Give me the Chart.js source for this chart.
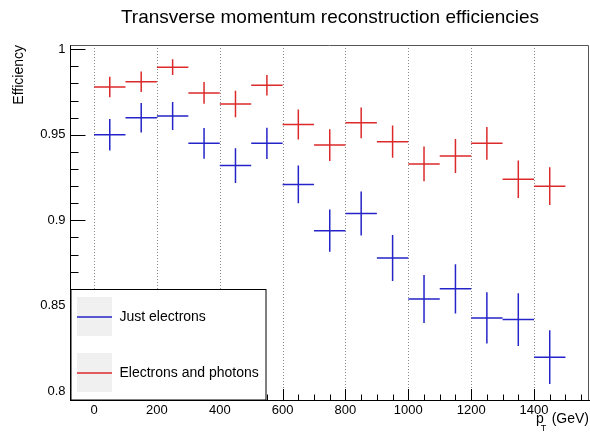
<!DOCTYPE html>
<html>
<head>
<meta charset="utf-8">
<script src="https://cdn.jsdelivr.net/npm/chart.js@4.4.0/dist/chart.umd.min.js"></script>
<style>
  body { margin: 0; background: #fff; }
  canvas { display: block; }
</style>
</head>
<body>
<canvas id="c" width="590" height="435"></canvas>
<script>
// ROOT-style efficiency plot, two histograms with error crosses

const binCenters = [50, 150, 250, 350, 450, 550, 650, 750, 850, 950, 1050, 1150, 1250, 1350, 1450];
const binHalfWidth = [50, 50, 50, 50, 50, 50, 50, 50, 50, 50, 50, 50, 50, 50, 50];

const justElectrons = [0.950, 0.960, 0.961, 0.945, 0.932, 0.945, 0.921, 0.894, 0.904, 0.878, 0.854, 0.860, 0.843, 0.842, 0.820];
const justElectronsErr = [0.0092, 0.0086, 0.0082, 0.0090, 0.0102, 0.0092, 0.0110, 0.0124, 0.0128, 0.0135, 0.0140, 0.0144, 0.0150, 0.0154, 0.0157];

const electronsPhotons = [0.978, 0.981, 0.9895, 0.9745, 0.968, 0.979, 0.956, 0.944, 0.957, 0.946, 0.933, 0.9376, 0.945, 0.924, 0.920];
const electronsPhotonsErr = [0.0060, 0.0060, 0.0046, 0.0064, 0.0078, 0.0060, 0.0088, 0.0093, 0.0090, 0.0094, 0.0102, 0.0099, 0.0096, 0.0110, 0.0110];

const xTicks = [0, 200, 400, 600, 800, 1000, 1200, 1400];
const xMinorTicks = [-50, 0, 50, 100, 150, 200, 250, 300, 350, 400, 450, 500, 550, 600, 650, 700, 750, 800,
  850, 900, 950, 1000, 1050, 1100, 1150, 1200, 1250, 1300, 1350, 1400, 1450, 1500, 1550];
const yTicks = [0.8, 0.85, 0.9, 0.95, 1.0];
const yMinorTicks = [0.8, 0.81, 0.82, 0.83, 0.84, 0.85, 0.86, 0.87, 0.88, 0.89, 0.9, 0.91, 0.92, 0.93, 0.94,
  0.95, 0.96, 0.97, 0.98, 0.99, 1.0];

const FONT = '"Liberation Sans", Arial, sans-serif';
const BLUE = '#2424c8';
const RED = '#dc2a2a';
const seriesColors = [BLUE, RED];

function points(ys, errs) {
  return binCenters.map((x, i) => ({ x, y: ys[i], xErr: binHalfWidth[i], yErr: errs[i] }));
}

const rootStyle = {
  id: 'rootStyle',
  beforeDatasetsDraw(chart) {
    const { ctx, chartArea: a, scales: { x } } = chart;
    ctx.save();
    ctx.strokeStyle = '#8a8a8a';
    ctx.lineWidth = 1;
    ctx.setLineDash([1, 2]);
    xTicks.forEach(v => {
      const px = Math.round(x.getPixelForValue(v)) + 0.5;
      ctx.beginPath();
      ctx.moveTo(px, a.top);
      ctx.lineTo(px, a.bottom);
      ctx.stroke();
    });
    ctx.restore();
  },
  afterDatasetsDraw(chart) {
    const { ctx, chartArea: a, scales: { x, y } } = chart;
    ctx.save();
    ctx.beginPath();
    ctx.rect(a.left, a.top, a.right - a.left, a.bottom - a.top);
    ctx.clip();
    chart.data.datasets.forEach((ds, i) => {
      ctx.strokeStyle = seriesColors[i];
      ctx.lineWidth = 1.5;
      ds.data.forEach(p => {
        const py = y.getPixelForValue(p.y);
        const px = x.getPixelForValue(p.x);
        ctx.beginPath();
        ctx.moveTo(x.getPixelForValue(p.x - p.xErr), py);
        ctx.lineTo(x.getPixelForValue(p.x + p.xErr), py);
        ctx.moveTo(px, y.getPixelForValue(p.y + p.yErr));
        ctx.lineTo(px, y.getPixelForValue(p.y - p.yErr));
        ctx.stroke();
      });
    });
    ctx.restore();
  },
  afterDraw(chart) {
    const { ctx, chartArea: a, scales: { x, y } } = chart;
    ctx.save();

    // frame top/right
    ctx.strokeStyle = '#555';
    ctx.lineWidth = 1;
    ctx.beginPath();
    ctx.moveTo(a.left, a.top + 0.5);
    ctx.lineTo(a.right - 0.5, a.top + 0.5);
    ctx.lineTo(a.right - 0.5, a.bottom);
    ctx.stroke();

    // inward ticks
    ctx.strokeStyle = '#000';
    ctx.beginPath();
    xMinorTicks.forEach(v => {
      const px = Math.round(x.getPixelForValue(v)) + 0.5;
      const len = xTicks.includes(v) ? 11 : 5.5;
      ctx.moveTo(px, a.bottom);
      ctx.lineTo(px, a.bottom - len);
    });
    yMinorTicks.forEach(v => {
      const py = Math.round(y.getPixelForValue(v)) + 0.5;
      const major = yTicks.some(t => Math.abs(t - v) < 1e-6);
      ctx.moveTo(a.left, py);
      ctx.lineTo(a.left + (major ? 15 : 8), py);
    });
    ctx.stroke();

    // title
    ctx.fillStyle = '#000';
    ctx.font = '19px ' + FONT;
    ctx.textAlign = 'center';
    ctx.textBaseline = 'alphabetic';
    ctx.fillText('Transverse momentum reconstruction efficiencies', 330, 23);

    // y title
    ctx.save();
    ctx.translate(23, a.top);
    ctx.rotate(-Math.PI / 2);
    ctx.font = '14px ' + FONT;
    ctx.textAlign = 'right';
    ctx.fillText('Efficiency', 0, 0);
    ctx.restore();

    // x title p_T (GeV)
    ctx.font = '14px ' + FONT;
    ctx.textAlign = 'right';
    ctx.fillText('(GeV)', 589, 423);
    const wG = ctx.measureText(' (GeV)').width;
    ctx.fillText('p', 589 - wG - 4, 423);
    ctx.font = '9px ' + FONT;
    ctx.textAlign = 'left';
    ctx.fillText('T', 589 - wG - 7, 431);

    // legend box
    const lx = a.left + 0.5, ly = 289.5, lw = 195, lh = a.bottom - 289.5;
    ctx.fillStyle = '#fff';
    ctx.fillRect(lx, ly, lw, lh);
    ctx.strokeStyle = '#000';
    ctx.lineWidth = 1;
    ctx.strokeRect(lx, ly, lw, lh);
    const rows = [297, 353];
    chart.data.datasets.forEach((ds, i) => {
      const top = rows[i];
      ctx.fillStyle = '#f0f0f0';
      ctx.fillRect(77, top, 35, 39);
      ctx.beginPath();
      ctx.strokeStyle = seriesColors[i];
      ctx.lineWidth = 1.5;
      ctx.moveTo(77, top + 20);
      ctx.lineTo(112, top + 20);
      ctx.stroke();
      ctx.fillStyle = '#000';
      ctx.font = '14px ' + FONT;
      ctx.textAlign = 'left';
      ctx.textBaseline = 'middle';
      ctx.fillText(ds.label, 119.5, top + 20);
    });

    ctx.restore();
  }
};

new Chart(document.getElementById('c'), {
  type: 'scatter',
  data: {
    datasets: [
      { label: 'Just electrons', data: points(justElectrons, justElectronsErr), borderColor: BLUE, backgroundColor: BLUE, pointRadius: 0, showLine: false },
      { label: 'Electrons and photons', data: points(electronsPhotons, electronsPhotonsErr), borderColor: RED, backgroundColor: RED, pointRadius: 0, showLine: false },
    ],
  },
  options: {
    responsive: false,
    animation: false,
    events: [],
    layout: { padding: { top: 45, right: 1, left: 0, bottom: 0 } },
    plugins: {
      legend: { display: false },
      title: { display: false },
      tooltip: { enabled: false },
    },
    scales: {
      x: {
        type: 'linear',
        min: -75,
        max: 1575,
        afterBuildTicks: s => { s.ticks = xTicks.map(v => ({ value: v })); },
        afterFit: s => { s.height = 35; },
        grid: { display: false, drawTicks: false },
        border: { display: true, color: '#000', width: 1 },
        ticks: { color: '#000', font: { family: FONT, size: 13 }, padding: 3, maxRotation: 0, callback: v => String(v) },
      },
      y: {
        type: 'linear',
        min: 0.795,
        max: 1.0025,
        afterBuildTicks: s => { s.ticks = yTicks.map(v => ({ value: v })); },
        afterFit: s => { s.width = 70.5; },
        grid: { display: false, drawTicks: false },
        border: { display: true, color: '#000', width: 1 },
        ticks: { color: '#000', font: { family: FONT, size: 13 }, padding: 5, callback: v => String(+v.toFixed(2)) },
      },
    },
  },
  plugins: [rootStyle],
});
</script>
</body>
</html>
